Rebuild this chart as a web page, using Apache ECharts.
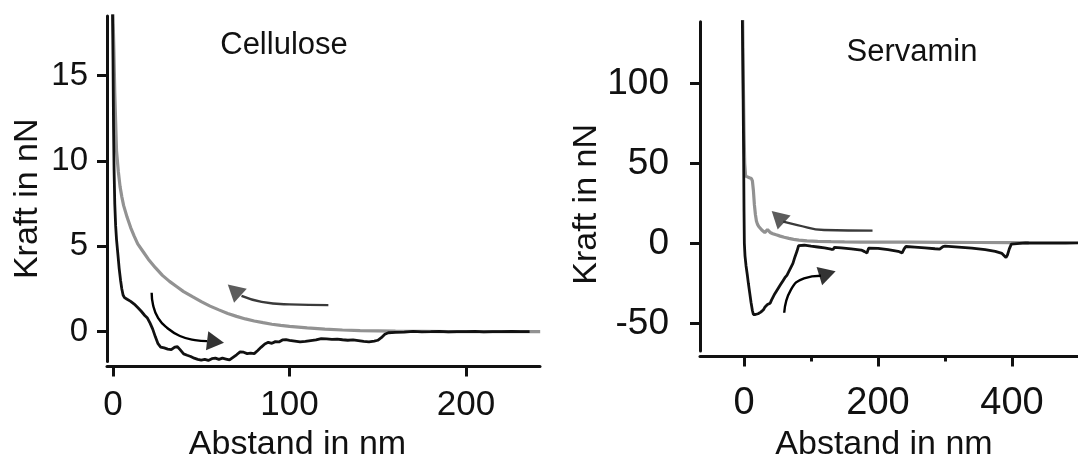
<!DOCTYPE html>
<html><head><meta charset="utf-8">
<script src="https://cdn.jsdelivr.net/npm/echarts@6/dist/echarts.min.js"></script>
<style>html,body{margin:0;padding:0;background:#fff}#c{width:1078px;height:455px}</style>
</head><body><div id="c"></div>
<script>
// ---- texts & ticks ----
const cellTitle = 'Cellulose';
const servTitle = 'Servamin';
const xName = 'Abstand in nm';
const yName = 'Kraft in nN';
const cellXTicks = [0, 100, 200];
const cellYTicks = [0, 5, 10, 15];
const servXTicks = [0, 200, 400];
const servXMinor = [100, 300];
const servYTicks = [-50, 0, 50, 100];

// ---- Cellulose: approach (grey) and retract (black), [distance nm, force nN] ----
const cellApproach = [[-0.3,19],[0,18.5],[0.5,16.5],[1,14],[1.5,12.3],[2,10.6],[3,9.4],[4,8.5],[5,7.9],[6,7.4],[8,6.7],[10,6.1],[12,5.6],[14,5.15],[17,4.7],[20,4.25],[24,3.75],[28,3.3],[32,2.95],[36,2.65],[40,2.35],[45,2.05],[50,1.76],[55,1.5],[60,1.28],[65,1.07],[70,0.9],[75,0.75],[80,0.63],[85,0.53],[90,0.44],[95,0.37],[100,0.31],[110,0.22],[120,0.15],[130,0.1],[140,0.07],[150,0.05],[160,0.03],[175,0.02],[190,0.01],[210,0],[242,0]];
const cellRetract = [[-0.3,19],[0,16],[0.3,12],[0.6,9.5],[1,7.5],[1.5,6.2],[2,5.4],[2.8,4.5],[3.5,3.7],[4.3,3.0],[5,2.5],[5.7,2.15],[6.5,2.0],[8,1.9],[10,1.78],[12,1.62],[14,1.42],[16,1.2],[18,0.95],[19.5,0.8],[21,0.5],[22.5,0.15],[24,-0.3],[25.5,-0.7],[27,-0.9],[29,-0.95],[31,-1.02],[33,-1.05],[35,-0.9],[36.5,-0.88],[38,-1.05],[40,-1.3],[42,-1.38],[44,-1.45],[46,-1.55],[48,-1.62],[50,-1.66],[52,-1.62],[54,-1.68],[56,-1.58],[58,-1.55],[60,-1.62],[62,-1.55],[64,-1.6],[66,-1.65],[68,-1.5],[70,-1.35],[72,-1.18],[74,-1.2],[76,-1.28],[78,-1.25],[80,-1.28],[82,-1.1],[84,-0.9],[86,-0.72],[88,-0.62],[90,-0.68],[92,-0.58],[94,-0.6],[96,-0.48],[98,-0.46],[100,-0.5],[103,-0.55],[106,-0.6],[109,-0.57],[112,-0.52],[115,-0.48],[118,-0.4],[121,-0.42],[124,-0.45],[127,-0.43],[130,-0.47],[133,-0.5],[136,-0.48],[139,-0.52],[142,-0.57],[145,-0.6],[148,-0.55],[150,-0.5],[152,-0.35],[154,-0.15],[156,-0.06],[160,-0.04],[165,-0.02],[170,0.02],[175,-0.01],[180,0],[185,0.02],[190,-0.01],[195,0.01],[200,0],[205,0.02],[210,-0.01],[215,0.01],[220,0],[226,0.02],[231,0],[236,0.01]];

// ---- Servamin ----
const servApproach = [[-2,140],[-1,100],[0,70],[1,50],[2.4,42],[5,41.5],[8,41],[11,40.5],[12.5,39],[14,33],[15.5,24],[17,18],[18.5,14],[20,12],[22,10.5],[24,9.3],[26.5,8.3],[29,7.3],[31,6.7],[33,7.8],[35,8.6],[37,7.5],[39,6.8],[43,6.0],[48,5.3],[54,4.5],[60,3.8],[67,3.1],[74,2.5],[82,2.0],[94,1.5],[110,1.2],[130,1.0],[150,0.9],[175,0.8],[200,0.8],[250,0.7],[300,0.6],[350,0.5],[400,0.4],[425,0.3]];
const servRetract = [[-2.5,140],[-1.5,100],[-0.5,50],[0,20],[0.5,0],[1.5,-8],[3,-14],[5,-20],[6.5,-25],[8.5,-31],[10.5,-37],[12.5,-42],[14,-44.5],[15.5,-45],[17,-44.5],[19,-44.8],[21,-44],[23,-43.5],[25,-43],[27,-42.5],[29,-41.5],[31,-40],[33,-38.8],[35,-38.3],[37,-38],[39,-37.5],[41,-35.5],[43.5,-33.5],[46,-31.5],[49,-29.5],[52,-27.5],[55,-25.5],[58,-23.5],[61,-21.5],[64,-20],[67,-17.5],[70,-15],[73,-12.5],[76,-8.5],[79,-5],[81.5,-1.5],[84,-0.7],[90,-1.2],[100,-1.8],[110,-2.3],[120,-2.9],[130,-3.7],[133,-3.8],[135,-2.5],[145,-2.9],[160,-3.5],[175,-4.2],[180,-5.2],[183.5,-6.0],[186,-3.0],[188.5,-2.6],[200,-3.2],[215,-4.0],[230,-5.0],[236,-6.0],[239,-3.5],[241.5,-2.0],[255,-2.4],[270,-2.9],[285,-3.4],[292,-3.6],[297,-2.0],[300,-1.8],[320,-2.4],[340,-3.0],[360,-4.0],[375,-5.0],[385,-6.3],[391,-8.8],[393,-7.5],[396,-3.5],[399,-0.5],[401,0.2],[420,0.3],[440,0.2],[460,0.3],[480,0.2],[499,0.3]];

// ---- direction arrows (annotation): shaft points and head centre ----
const cellArrowGrey = [[122,1.56],[99.8,1.6],[84.2,1.75],[72.8,2.1]];
const cellHeadGrey = [[68.6,2.44]];
const cellArrowBlack = [[21.9,2.28],[22.7,1.56],[25.6,0.8],[30.7,0.22],[37.9,-0.25],[46.4,-0.49],[53.3,-0.55]];
const cellHeadBlack = [[58.1,-0.59]];
const servArrowGrey = [[191.8,7.9],[119.4,8.3],[79.6,11.4],[58.5,13.5]];
const servHeadGrey = [[50.6,16.6]];
const servArrowBlack = [[60,-43.4],[69.7,-29.2],[89.6,-21.9],[114.8,-20.3]];
const servHeadBlack = [[124.6,-19]];

const FONT = "'Liberation Sans', Arial, Helvetica, sans-serif";
const INK = '#111';

function xAxisCfg(grid, min, max, ticks, fs, margin, nameGap, namePad, offset) {
  return {
    type: 'value', gridIndex: grid, min: min, max: max, position: 'bottom', offset: offset,
    axisLine: { show: true, onZero: false, lineStyle: { color: INK, width: 3 } },
    axisTick: { show: true, customValues: ticks, length: 10, lineStyle: { color: INK, width: 3 } },
    axisLabel: { show: true, customValues: ticks, fontSize: fs, color: INK, margin: margin, fontFamily: FONT },
    splitLine: { show: false },
    name: xName, nameLocation: 'middle', nameGap: nameGap,
    nameTextStyle: { fontSize: 34, color: INK, fontFamily: FONT, padding: namePad }
  };
}
function yAxisCfg(grid, min, max, ticks, fs, margin, nameGap, namePad) {
  return {
    type: 'value', gridIndex: grid, min: min, max: max, position: 'left',
    axisLine: { show: true, onZero: false, lineStyle: { color: INK, width: 3 } },
    axisTick: { show: true, customValues: ticks, length: 10, lineStyle: { color: INK, width: 3 } },
    axisLabel: { show: true, customValues: ticks, fontSize: fs, color: INK, margin: margin, fontFamily: FONT },
    splitLine: { show: false },
    name: yName, nameLocation: 'middle', nameGap: nameGap,
    nameTextStyle: { fontSize: 34, color: INK, fontFamily: FONT, padding: namePad }
  };
}
function curve(xi, yi, data, color, width, z) {
  return { type: 'line', xAxisIndex: xi, yAxisIndex: yi, data: data, showSymbol: false, symbol: 'none',
    lineStyle: { color: color, width: width }, z: z, clip: true, silent: true };
}
function shaft(xi, yi, data, color) {
  return { type: 'line', xAxisIndex: xi, yAxisIndex: yi, data: data, smooth: 0.5, showSymbol: false, symbol: 'none',
    lineStyle: { color: color, width: 2.4 }, z: 5, silent: true };
}
function head(xi, yi, data, color, rot) {
  return { type: 'scatter', xAxisIndex: xi, yAxisIndex: yi, data: data, symbol: 'triangle',
    symbolSize: [19, 17], symbolRotate: rot, itemStyle: { color: color }, z: 6, silent: true };
}

const chart = echarts.init(document.getElementById('c'), null, { renderer: 'canvas' });
chart.setOption({
  animation: false,
  backgroundColor: '#fff',
  textStyle: { fontFamily: FONT },
  grid: [
    { left: 107, top: 15.9, width: 433, height: 345.7, containLabel: false, outerBoundsMode: 'none' },
    { left: 700, top: 21.7, width: 378, height: 329.3, containLabel: false, outerBoundsMode: 'none' }
  ],
  xAxis: [
    xAxisCfg(0, -3.4, 241.9, cellXTicks, 35, 21, 59, [0, 52, 0, 0], 5),
    xAxisCfg(1, -65.7, 498.5, servXTicks, 38, 28, 69, [0, 10, 0, 0], 5.5),
    { type: 'value', gridIndex: 1, min: -65.7, max: 498.5, position: 'bottom', offset: 5.5,
      axisLine: { show: false, onZero: false }, splitLine: { show: false },
      axisTick: { show: true, customValues: servXMinor, length: 5, lineStyle: { color: INK, width: 3 } },
      axisLabel: { show: false } }
  ],
  yAxis: [
    yAxisCfg(0, -1.75, 18.5, cellYTicks, 33, 19, 62, [0, 20, 0, 0]),
    yAxisCfg(1, -67.3, 138.5, servYTicks, 37, 31, 80, [0, 36, 0, 0])
  ],
  graphic: [
    { type: 'text', x: 284, y: 45, style: { text: cellTitle, font: '31px ' + FONT, fill: INK, align: 'center', verticalAlign: 'middle' } },
    { type: 'text', x: 912, y: 52, style: { text: servTitle, font: '31px ' + FONT, fill: INK, align: 'center', verticalAlign: 'middle' } }
  ],
  series: [
    curve(0, 0, cellApproach, '#929292', 3.2, 2),
    curve(0, 0, cellRetract, '#111', 2.8, 3),
    curve(1, 1, servApproach, '#929292', 3.2, 2),
    curve(1, 1, servRetract, '#111', 2.8, 3),
    shaft(0, 0, cellArrowGrey, '#3a3a3a'),
    head(0, 0, cellHeadGrey, '#333', 48),
    shaft(0, 0, cellArrowBlack, '#000'),
    head(0, 0, cellHeadBlack, '#000', -97),
    shaft(1, 1, servArrowGrey, '#3a3a3a'),
    head(1, 1, servHeadGrey, '#333', 47),
    shaft(1, 1, servArrowBlack, '#000'),
    head(1, 1, servHeadBlack, '#000', -73)
  ]
});
</script>
</body></html>
